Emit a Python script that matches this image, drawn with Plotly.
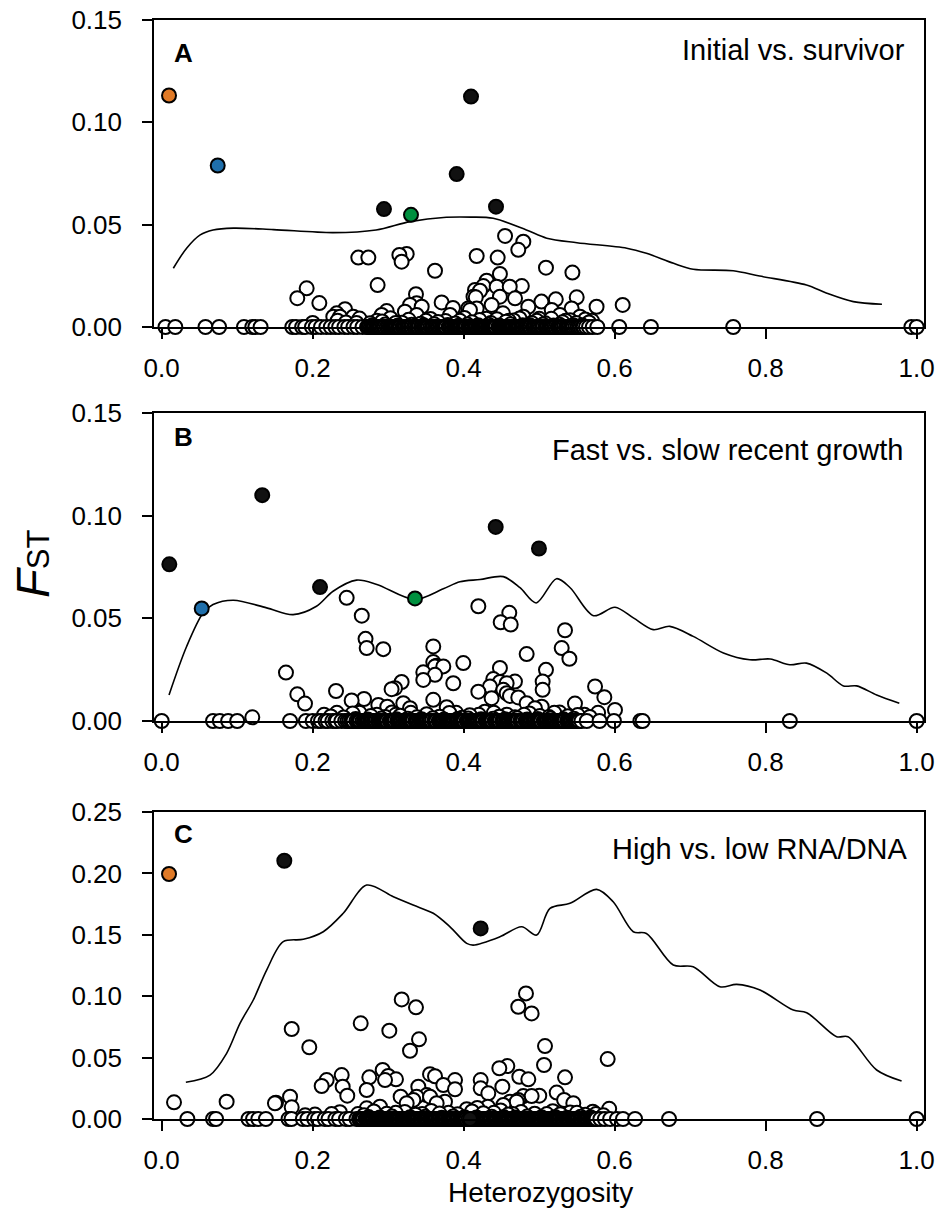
import plotly.graph_objects as go

# ---------------- data ----------------
# Panel A: Initial vs. survivor
a_zero_x = [0.005, 0.018, 0.058, 0.076, 0.109, 0.120, 0.124, 0.131,
            0.173, 0.178, 0.186, 0.190, 0.199, 0.204, 0.211, 0.218, 0.224, 0.230,
            0.235, 0.242, 0.247, 0.254, 0.259, 0.266, 0.272, 0.275, 0.277, 0.279, 0.282, 0.284,
            0.287, 0.290, 0.292, 0.294, 0.298, 0.300, 0.302, 0.305, 0.308, 0.311, 0.313, 0.315, 0.319,
            0.321, 0.323, 0.325, 0.328, 0.330, 0.334, 0.336, 0.338, 0.341, 0.345, 0.347, 0.350, 0.352, 0.356,
            0.358, 0.360, 0.362, 0.367, 0.369, 0.371, 0.374, 0.377, 0.380, 0.383, 0.385, 0.387, 0.392,
            0.395, 0.397, 0.399, 0.402, 0.406, 0.409, 0.412, 0.414, 0.417, 0.419, 0.421, 0.424, 0.427,
            0.430, 0.432, 0.435, 0.438, 0.441, 0.443, 0.446, 0.449, 0.452, 0.454, 0.457, 0.460, 0.463,
            0.466, 0.468, 0.471, 0.474, 0.476, 0.479, 0.481, 0.484, 0.486, 0.489, 0.493, 0.495, 0.497, 0.500,
            0.502, 0.504, 0.508, 0.511, 0.513, 0.515, 0.518, 0.520, 0.522, 0.526, 0.529, 0.531, 0.533, 0.537,
            0.540, 0.542, 0.544, 0.548, 0.551, 0.553, 0.555, 0.559, 0.562, 0.566, 0.571, 0.577,
            0.606, 0.648, 0.757, 0.993, 1.000,
            0.2735, 0.2805, 0.2855, 0.2885, 0.2955, 0.3035, 0.3065, 0.3095, 0.3165, 0.3205,
            0.3265, 0.3315, 0.3395, 0.3435, 0.3485, 0.3535, 0.3595, 0.3635, 0.3655, 0.3725,
            0.3755, 0.3815, 0.3885, 0.3905, 0.3935, 0.4005, 0.4035, 0.4075, 0.4105, 0.4155,
            0.4225, 0.4255, 0.4285, 0.4335, 0.4365, 0.4395, 0.4425, 0.4475, 0.4505, 0.4555,
            0.4585, 0.4615, 0.4645, 0.4695, 0.4725, 0.4775, 0.4825, 0.4875, 0.4915, 0.4985,
            0.5055, 0.5095, 0.5165, 0.5245, 0.5275, 0.5355, 0.5385, 0.5455, 0.5505, 0.5575]
a_pos_x = [0.4548, 0.479, 0.4723, 0.2604, 0.2737, 0.3148, 0.3245, 0.3178, 0.4172,
           0.445, 0.448, 0.362, 0.509, 0.544, 0.286, 0.192, 0.1796, 0.2088, 0.4304,
           0.426, 0.4216, 0.416, 0.4437, 0.461, 0.477, 0.448, 0.468, 0.3368, 0.3377,
           0.3289, 0.3222, 0.3444, 0.2428, 0.2318, 0.2273, 0.2362, 0.298, 0.2914,
           0.3708, 0.3858, 0.406, 0.4083, 0.4172, 0.437, 0.4856, 0.503, 0.522,
           0.5166, 0.5497, 0.543, 0.576, 0.6106, 0.452, 0.479, 0.554, 0.5275, 0.382,
           0.3377, 0.2538, 0.413, 0.415,
           0.285, 0.310, 0.350, 0.395, 0.430, 0.460, 0.500, 0.535, 0.570, 0.258, 0.200,
           0.233, 0.244, 0.262, 0.276, 0.292, 0.303, 0.318, 0.327, 0.343, 0.356, 0.366,
           0.376, 0.389, 0.401, 0.411, 0.421, 0.436, 0.444, 0.456, 0.466, 0.474, 0.490,
           0.497, 0.508, 0.516, 0.531, 0.541, 0.549, 0.561, 0.566,
           0.279, 0.296, 0.313, 0.331, 0.347, 0.361, 0.379, 0.393, 0.405, 0.419, 0.433,
           0.447, 0.462, 0.478, 0.487, 0.505, 0.519, 0.527, 0.545, 0.557]
a_pos_y = [0.0445, 0.0417, 0.0377, 0.0339, 0.0339, 0.0352, 0.0357, 0.0319, 0.0347,
           0.0339, 0.0259, 0.0275, 0.0290, 0.0266, 0.0205, 0.0189, 0.0141, 0.0117, 0.0226,
           0.0200, 0.0177, 0.0145, 0.0197, 0.0197, 0.0200, 0.0148, 0.0140, 0.0160, 0.0116,
           0.0108, 0.0075, 0.0099, 0.0087, 0.0067, 0.0050, 0.0050, 0.0078, 0.0059,
           0.0120, 0.0093, 0.0091, 0.0083, 0.0091, 0.0108, 0.0099, 0.0124, 0.0135,
           0.0083, 0.0145, 0.0091, 0.0099, 0.0108, 0.0067, 0.0050, 0.0050, 0.0059, 0.0059,
           0.0059, 0.0050, 0.0148, 0.0181,
           0.0030, 0.0020, 0.0030, 0.0030, 0.0040, 0.0030, 0.0040, 0.0030, 0.0030, 0.0020, 0.0020,
           0.0031, 0.0022, 0.0041, 0.0018, 0.0027, 0.0043, 0.0021, 0.0035, 0.0016, 0.0039, 0.0024,
           0.0029, 0.0017, 0.0044, 0.0023, 0.0034, 0.0019, 0.0038, 0.0026, 0.0032, 0.0042, 0.0020,
           0.0030, 0.0018, 0.0040, 0.0023, 0.0033, 0.0019, 0.0037, 0.0022,
           0.0009, 0.0012, 0.0007, 0.0011, 0.0008, 0.0013, 0.0010, 0.0006, 0.0012, 0.0009, 0.0011,
           0.0007, 0.0013, 0.0008, 0.0010, 0.0012, 0.0007, 0.0011, 0.0009, 0.0008]
a_orange = ([0.0097], [0.1131])
a_blue = ([0.0742], [0.0789])
a_green = ([0.3302], [0.0548])
a_black = ([0.2944, 0.3907, 0.4097, 0.4428], [0.0576, 0.0747, 0.1126, 0.0588])
a_curve_x = [0.0154, 0.033, 0.051, 0.068, 0.095, 0.148, 0.227, 0.284, 0.329, 0.377,
             0.410, 0.439, 0.483, 0.510, 0.550, 0.616, 0.642, 0.678, 0.704, 0.757,
             0.792, 0.854, 0.881, 0.916, 0.954]
a_curve_y = [0.0287, 0.0385, 0.0450, 0.0474, 0.0483, 0.0476, 0.0461, 0.0474, 0.0515, 0.0536,
             0.0537, 0.0531, 0.0474, 0.0434, 0.0412, 0.0385, 0.0360, 0.0311, 0.0282, 0.0275,
             0.0249, 0.0205, 0.0165, 0.0124, 0.0111]

# Panel B: Fast vs. slow recent growth
b_zero_x = [0.000, 0.068, 0.077, 0.088, 0.100, 0.170, 0.191, 0.200, 0.207, 0.211,
            0.217, 0.220, 0.226, 0.230, 0.232, 0.238, 0.243, 0.246, 0.251, 0.254,
            0.258, 0.260, 0.263, 0.266, 0.268, 0.271, 0.274, 0.276, 0.279, 0.281, 0.284, 0.288, 0.290, 0.293, 0.296,
            0.299, 0.302, 0.305, 0.307, 0.309, 0.312, 0.315, 0.318, 0.320, 0.322, 0.325, 0.327, 0.330, 0.333, 0.336, 0.339,
            0.341, 0.343, 0.346, 0.349, 0.352, 0.354, 0.356, 0.358, 0.361, 0.364, 0.367, 0.370, 0.373, 0.375, 0.377, 0.380, 0.383,
            0.386, 0.388, 0.390, 0.393, 0.395, 0.398, 0.401, 0.404, 0.407, 0.409, 0.411, 0.414, 0.417, 0.420, 0.422, 0.424,
            0.426, 0.429, 0.432, 0.435, 0.438, 0.441, 0.443, 0.445, 0.448, 0.451, 0.454, 0.456, 0.458, 0.461, 0.463, 0.466,
            0.469, 0.472, 0.475, 0.477, 0.479, 0.482, 0.485, 0.488, 0.490, 0.492, 0.495, 0.497, 0.500, 0.503, 0.506, 0.509,
            0.511, 0.513, 0.516, 0.519, 0.522, 0.524, 0.526, 0.529, 0.531, 0.534, 0.537, 0.540, 0.543, 0.545, 0.547, 0.550, 0.553,
            0.556, 0.563, 0.580, 0.599, 0.634, 0.637, 0.832, 1.000,
            0.2485, 0.2525, 0.2615, 0.2695, 0.2725, 0.2775, 0.2825, 0.2865, 0.2915, 0.2945,
            0.2975, 0.3035, 0.3085, 0.3135, 0.3165, 0.3235, 0.3285, 0.3315, 0.3375, 0.3445,
            0.3475, 0.3505, 0.3555, 0.3625, 0.3685, 0.3715, 0.3785, 0.3815, 0.3845, 0.3915,
            0.3965, 0.3995, 0.4055, 0.4125, 0.4155, 0.4185, 0.4255, 0.4305, 0.4335, 0.4365,
            0.4425, 0.4465, 0.4525, 0.4595, 0.4645, 0.4675, 0.4705, 0.4765, 0.4835, 0.4865,
            0.4935, 0.4985, 0.5015, 0.5075, 0.5145, 0.5175, 0.5205, 0.5275, 0.5325, 0.5385,
            0.5415, 0.5485, 0.5515]
b_pos_x = [0.245, 0.265, 0.4194, 0.4604, 0.449, 0.4623, 0.5342, 0.270, 0.2715, 0.2935,
           0.3597, 0.5298, 0.540, 0.4834, 0.3995, 0.3597, 0.3641, 0.373, 0.3465, 0.3465,
           0.362, 0.362, 0.3862, 0.1646, 0.3178, 0.309, 0.3045, 0.448, 0.4392, 0.448,
           0.4569, 0.4679, 0.4348, 0.4525, 0.509, 0.5046, 0.5046, 0.574, 0.5863, 0.6004,
           0.2309, 0.1796, 0.1898, 0.2516, 0.268, 0.2869, 0.2988, 0.320, 0.3289, 0.3597,
           0.3775, 0.4194, 0.437, 0.4613, 0.4569, 0.4723, 0.4834, 0.4944, 0.5033, 0.5474,
           0.120, 0.215, 0.232, 0.262, 0.285, 0.310, 0.330, 0.390, 0.420, 0.440, 0.480,
           0.520, 0.560, 0.578,
           0.224, 0.241, 0.253, 0.277, 0.296, 0.305, 0.316, 0.338, 0.351, 0.368, 0.381,
           0.398, 0.408, 0.428, 0.447, 0.457, 0.468, 0.487, 0.501, 0.513, 0.527, 0.538,
           0.551, 0.567,
           0.257, 0.273, 0.291, 0.311, 0.326, 0.344, 0.359, 0.374, 0.392, 0.406, 0.423,
           0.439, 0.455, 0.471, 0.484, 0.498, 0.515, 0.532, 0.546]
b_pos_y = [0.0600, 0.0513, 0.0559, 0.0527, 0.0481, 0.0470, 0.0442, 0.0400, 0.0355, 0.0350,
           0.0363, 0.0355, 0.0303, 0.0326, 0.0282, 0.0287, 0.0269, 0.0266, 0.0237, 0.0200,
           0.0266, 0.0225, 0.0184, 0.0236, 0.0190, 0.0160, 0.0155, 0.0258, 0.0204, 0.0190,
           0.0184, 0.0192, 0.0168, 0.0152, 0.0249, 0.0192, 0.0152, 0.0168, 0.0116, 0.0054,
           0.0146, 0.0130, 0.0085, 0.0100, 0.0107, 0.0078, 0.0070, 0.0087, 0.0062, 0.0103,
           0.0067, 0.0143, 0.0111, 0.0122, 0.0135, 0.0115, 0.0087, 0.0062, 0.0070, 0.0085,
           0.0018, 0.0030, 0.0040, 0.0040, 0.0030, 0.0030, 0.0040, 0.0040, 0.0030, 0.0040, 0.0030,
           0.0040, 0.0030, 0.0040,
           0.0022, 0.0017, 0.0036, 0.0024, 0.0019, 0.0042, 0.0026, 0.0018, 0.0033, 0.0021, 0.0039,
           0.0016, 0.0028, 0.0045, 0.0021, 0.0031, 0.0018, 0.0037, 0.0024, 0.0019, 0.0041, 0.0023,
           0.0029, 0.0020,
           0.0010, 0.0007, 0.0012, 0.0008, 0.0011, 0.0009, 0.0013, 0.0007, 0.0010, 0.0012, 0.0008,
           0.0011, 0.0009, 0.0013, 0.0007, 0.0010, 0.0012, 0.0008, 0.0011]
b_blue = ([0.053], [0.0548])
b_green = ([0.3355], [0.0597])
b_black = ([0.0101, 0.1332, 0.2097, 0.4424, 0.4997], [0.0763, 0.1100, 0.0652, 0.0945, 0.0840])
b_curve_x = [0.0097, 0.033, 0.055, 0.068, 0.095, 0.139, 0.174, 0.205, 0.227, 0.258,
             0.285, 0.335, 0.373, 0.395, 0.4216, 0.4525, 0.4746, 0.496, 0.523, 0.541,
             0.572, 0.6004, 0.6247, 0.651, 0.673, 0.704, 0.744, 0.779, 0.806, 0.832,
             0.854, 0.881, 0.903, 0.9205, 0.947, 0.977]
b_curve_y = [0.0127, 0.0363, 0.0527, 0.0567, 0.0588, 0.0551, 0.0518, 0.0559, 0.0632, 0.0686,
             0.0665, 0.0592, 0.0644, 0.0678, 0.0689, 0.0703, 0.0649, 0.0575, 0.0693, 0.0649,
             0.0513, 0.0554, 0.0502, 0.0445, 0.0461, 0.0412, 0.0331, 0.0298, 0.0302, 0.0274,
             0.0282, 0.0233, 0.0171, 0.0171, 0.0127, 0.0087]

# Panel C: High vs. low RNA/DNA
c_zero_x = [0.034, 0.068, 0.072, 0.115, 0.121, 0.128, 0.138, 0.168, 0.172, 0.187,
            0.193, 0.202, 0.207, 0.216, 0.221, 0.230, 0.235, 0.244, 0.249, 0.258,
            0.263, 0.265, 0.267, 0.270, 0.273, 0.276, 0.278, 0.281, 0.283, 0.286, 0.289, 0.291, 0.294, 0.297, 0.299,
            0.302, 0.305, 0.307, 0.310, 0.313, 0.316, 0.318, 0.321, 0.323, 0.326, 0.329, 0.331, 0.334, 0.337, 0.340,
            0.342, 0.345, 0.347, 0.350, 0.353, 0.355, 0.358, 0.361, 0.364, 0.366, 0.369, 0.371, 0.374, 0.377, 0.379,
            0.382, 0.385, 0.388, 0.390, 0.393, 0.395, 0.398, 0.401, 0.404, 0.413, 0.415, 0.418, 0.421, 0.423,
            0.426, 0.429, 0.432, 0.434, 0.437, 0.439, 0.442, 0.445, 0.447, 0.450, 0.453, 0.456, 0.458, 0.461, 0.463,
            0.466, 0.469, 0.471, 0.474, 0.477, 0.480, 0.482, 0.485, 0.487, 0.490, 0.493, 0.495, 0.498, 0.501, 0.504,
            0.506, 0.509, 0.511, 0.514, 0.517, 0.519, 0.522, 0.525, 0.528, 0.530, 0.533, 0.535, 0.538, 0.541, 0.543,
            0.546, 0.549, 0.552, 0.554, 0.557, 0.559, 0.562, 0.565, 0.567, 0.570, 0.573, 0.576, 0.581, 0.587,
            0.594, 0.603, 0.611, 0.627, 0.672, 0.868, 1.000,
            0.2615, 0.2665, 0.2715, 0.2745, 0.2795, 0.2845, 0.2875, 0.2925, 0.2955, 0.3005,
            0.3035, 0.3085, 0.3115, 0.3145, 0.3195, 0.3245, 0.3275, 0.3325, 0.3355, 0.3385,
            0.3435, 0.3485, 0.3515, 0.3565, 0.3595, 0.3625, 0.3675, 0.3725, 0.3755, 0.3805,
            0.3835, 0.3865, 0.3915, 0.3965, 0.3995, 0.4025, 0.4065, 0.4105, 0.4145, 0.4195,
            0.4245, 0.4275, 0.4305, 0.4355, 0.4405, 0.4435, 0.4485, 0.4515, 0.4545, 0.4595,
            0.4645, 0.4675, 0.4725, 0.4755, 0.4785, 0.4835, 0.4885, 0.4915, 0.4965, 0.4995,
            0.5025, 0.5075, 0.5125, 0.5155, 0.5205, 0.5235, 0.5265, 0.5315, 0.5365, 0.5395,
            0.5445, 0.5475, 0.5505, 0.5555, 0.5605, 0.5635, 0.5685, 0.5715, 0.5745]
c_pos_x = [0.3179, 0.3368, 0.4825, 0.4723, 0.490, 0.1722, 0.2636, 0.3015, 0.3408, 0.3289,
           0.1955, 0.5077, 0.5064, 0.5907, 0.4472, 0.4578, 0.5342, 0.4737, 0.4856, 0.4225,
           0.4225, 0.4326, 0.4512, 0.3554, 0.362, 0.3885, 0.3885, 0.373, 0.3399, 0.3377,
           0.351, 0.2927, 0.3001, 0.3103, 0.2958, 0.275, 0.2715, 0.2384, 0.2397, 0.2458,
           0.2185, 0.2119, 0.170, 0.1722, 0.1514, 0.3165, 0.3245, 0.3333, 0.3752, 0.3554,
           0.3642, 0.2715, 0.4613, 0.4723, 0.479, 0.490, 0.5001, 0.5232, 0.533, 0.5452,
           0.5927, 0.404, 0.418, 0.432, 0.4525, 0.2891, 0.0163, 0.086, 0.150, 0.4702,
           0.190, 0.225, 0.260, 0.310, 0.345, 0.380, 0.440, 0.465, 0.510, 0.550, 0.575, 0.585,
           0.203, 0.236, 0.268, 0.281, 0.298, 0.322, 0.336, 0.357, 0.368, 0.392, 0.411,
           0.426, 0.449, 0.459, 0.476, 0.494, 0.518, 0.528, 0.541, 0.561, 0.571,
           0.274, 0.289, 0.305, 0.329, 0.349, 0.371, 0.386, 0.401, 0.417, 0.437, 0.453,
           0.468, 0.484, 0.503, 0.521, 0.537, 0.555, 0.568]
c_pos_y = [0.0974, 0.0909, 0.1023, 0.0914, 0.0860, 0.0733, 0.0779, 0.0719, 0.0649, 0.0556,
           0.0584, 0.0594, 0.0440, 0.0488, 0.0413, 0.0431, 0.0339, 0.0344, 0.0323, 0.0317,
           0.0250, 0.0209, 0.0263, 0.0365, 0.0348, 0.0317, 0.0242, 0.0277, 0.0263, 0.0182,
           0.0195, 0.0399, 0.0350, 0.0323, 0.0317, 0.0339, 0.0236, 0.0358, 0.0263, 0.0190,
           0.0317, 0.0269, 0.0182, 0.0095, 0.0133, 0.0182, 0.0128, 0.0155, 0.0141, 0.0182,
           0.0128, 0.0087, 0.0141, 0.0155, 0.0187, 0.0187, 0.0190, 0.0215, 0.0155, 0.0128,
           0.0083, 0.0080, 0.0090, 0.0100, 0.0114, 0.0100, 0.0136, 0.0141, 0.0128, 0.0141,
           0.0030, 0.0040, 0.0040, 0.0050, 0.0040, 0.0050, 0.0050, 0.0040, 0.0040, 0.0050, 0.0040, 0.0030,
           0.0036, 0.0055, 0.0031, 0.0062, 0.0042, 0.0058, 0.0035, 0.0066, 0.0044, 0.0038, 0.0061,
           0.0047, 0.0069, 0.0036, 0.0057, 0.0043, 0.0064, 0.0039, 0.0052, 0.0034, 0.0060,
           0.0016, 0.0012, 0.0020, 0.0014, 0.0018, 0.0011, 0.0021, 0.0015, 0.0013, 0.0019, 0.0016,
           0.0012, 0.0020, 0.0014, 0.0017, 0.0011, 0.0019, 0.0015]
c_orange = ([0.0097], [0.1995])
c_black = ([0.1624, 0.4225, 0.4084], [0.2103, 0.1552, 0.0])
c_curve_x = [0.032, 0.064, 0.086, 0.1037, 0.1213, 0.139, 0.161, 0.1876, 0.214, 0.2405,
             0.2715, 0.3068, 0.333, 0.3597, 0.3819, 0.404, 0.4127, 0.448, 0.4768, 0.4967,
             0.5143, 0.5408, 0.576, 0.598, 0.6246, 0.642, 0.6776, 0.704, 0.7394, 0.7616,
             0.7925, 0.8366, 0.8543, 0.894, 0.909, 0.947, 0.980]
c_curve_y = [0.0299, 0.0358, 0.0535, 0.0779, 0.0969, 0.1213, 0.1444, 0.1463, 0.1525, 0.1675,
             0.1905, 0.1810, 0.1742, 0.1675, 0.1565, 0.1430, 0.1416, 0.1484, 0.1565, 0.1498,
             0.1715, 0.1756, 0.1870, 0.1769, 0.1525, 0.1511, 0.1254, 0.1240, 0.1077, 0.1096,
             0.1050, 0.0887, 0.0866, 0.0670, 0.0670, 0.0399, 0.0309]

panel_letters = ["A", "B", "C"]
panel_titles = ["Initial vs. survivor", "Fast vs. slow recent growth", "High vs. low RNA/DNA"]
x_ticks = [0.0, 0.2, 0.4, 0.6, 0.8, 1.0]
y_ticks_ab = [0.0, 0.05, 0.10, 0.15]
y_ticks_c = [0.0, 0.05, 0.10, 0.15, 0.20, 0.25]

# ---------------- styling / layout ----------------
W, H = 939, 1224
FONT = "Liberation Sans, Arial, sans-serif"
ORANGE, BLUE, GREEN, BLACK = "#E07A27", "#1F6FAB", "#00903F", "#111111"
X_LEFT, X_RIGHT = 154, 924
FRAMES = [(20, 327), (413, 721), (812, 1119)]   # top/bottom pixel rows of each plot box
MSIZE, MLINE = 14, 2.0

fig = go.Figure()

panels = [
    dict(zero=a_zero_x, px=a_pos_x, py=a_pos_y, curve=(a_curve_x, a_curve_y),
         colored=[(a_black, BLACK), (a_orange, ORANGE), (a_blue, BLUE), (a_green, GREEN)],
         yr=[0, 0.15], yt=y_ticks_ab),
    dict(zero=b_zero_x, px=b_pos_x, py=b_pos_y, curve=(b_curve_x, b_curve_y),
         colored=[(b_black, BLACK), (b_blue, BLUE), (b_green, GREEN)],
         yr=[0, 0.15], yt=y_ticks_ab),
    dict(zero=c_zero_x, px=c_pos_x, py=c_pos_y, curve=(c_curve_x, c_curve_y),
         colored=[(c_black, BLACK), (c_orange, ORANGE)],
         yr=[0, 0.25], yt=y_ticks_c),
]

for i, p in enumerate(panels):
    sx = "" if i == 0 else str(i + 1)
    xa, ya = "x" + sx, "y" + sx
    fig.add_trace(go.Scatter(x=p["curve"][0], y=p["curve"][1], mode="lines",
                             line=dict(color="black", width=1.6, shape="spline", smoothing=0.9),
                             xaxis=xa, yaxis=ya, hoverinfo="skip", showlegend=False))
    # higher F_ST loci first, the zero row last, each drawn left to right
    pts = sorted(zip(p["px"], p["py"]), key=lambda t: (-t[1], t[0]))
    zx = sorted(p["zero"])
    ox = [t[0] for t in pts] + zx
    oy = [t[1] for t in pts] + [0.0] * len(zx)
    fig.add_trace(go.Scatter(x=ox, y=oy, mode="markers", cliponaxis=False,
                             marker=dict(symbol="circle", size=MSIZE, color="white",
                                         line=dict(color="black", width=MLINE)),
                             xaxis=xa, yaxis=ya, showlegend=False))
    for (cx, cy), col in p["colored"]:
        fig.add_trace(go.Scatter(x=cx, y=cy, mode="markers", cliponaxis=False,
                                 marker=dict(symbol="circle", size=MSIZE, color=col,
                                             line=dict(color="black", width=MLINE)),
                                 xaxis=xa, yaxis=ya, showlegend=False))

    top, bot = FRAMES[i]
    axis_common = dict(showline=True, linecolor="black", linewidth=1.6, mirror=True,
                       ticks="outside", ticklen=10, tickwidth=1.6, tickcolor="black",
                       showgrid=False, zeroline=False,
                       tickfont=dict(family=FONT, size=26, color="black"))
    fig.update_layout(**{
        "xaxis" + sx: dict(domain=[X_LEFT / W, X_RIGHT / W], range=[-0.0102, 1.0097],
                           anchor=ya, tickvals=x_ticks, tickformat=".1f",
                           ticklabelstandoff=7, **axis_common),
        "yaxis" + sx: dict(domain=[1 - bot / H, 1 - top / H], range=p["yr"],
                           anchor=xa, tickvals=p["yt"], tickformat=".2f",
                           ticklabelstandoff=15, **axis_common),
    })

annotations = []
letter_pos = [(172, 53.5), (172, 437), (172, 834)]
title_pos = [(907, 50.5), (905, 450), (910, 848.5)]
for i in range(3):
    lx, ly = letter_pos[i]
    tx, ty = title_pos[i]
    annotations.append(dict(x=lx / W, y=1 - ly / H, xref="paper", yref="paper",
                            xanchor="left", yanchor="middle", showarrow=False,
                            text="<b>%s</b>" % panel_letters[i],
                            font=dict(family=FONT, size=26, color="black")))
    annotations.append(dict(x=tx / W, y=1 - ty / H, xref="paper", yref="paper",
                            xanchor="right", yanchor="middle", showarrow=False,
                            text=panel_titles[i],
                            font=dict(family=FONT, size=29, color="black")))

annotations.append(dict(x=540 / W, y=1 - 1192 / H, xref="paper", yref="paper",
                        xanchor="center", yanchor="middle", showarrow=False,
                        text="Heterozygosity",
                        font=dict(family=FONT, size=28, color="black")))
annotations.append(dict(x=33 / W, y=1 - 564 / H, xref="paper", yref="paper",
                        xanchor="center", yanchor="middle", showarrow=False, textangle=-90,
                        text="<i>F</i><span style='font-size:31px'>ST</span>",
                        font=dict(family=FONT, size=47, color="black")))

fig.update_layout(width=W, height=H, margin=dict(l=0, r=0, t=0, b=0),
                  paper_bgcolor="white", plot_bgcolor="white",
                  template="none", showlegend=False, annotations=annotations)

fig.write_html("out.html")
